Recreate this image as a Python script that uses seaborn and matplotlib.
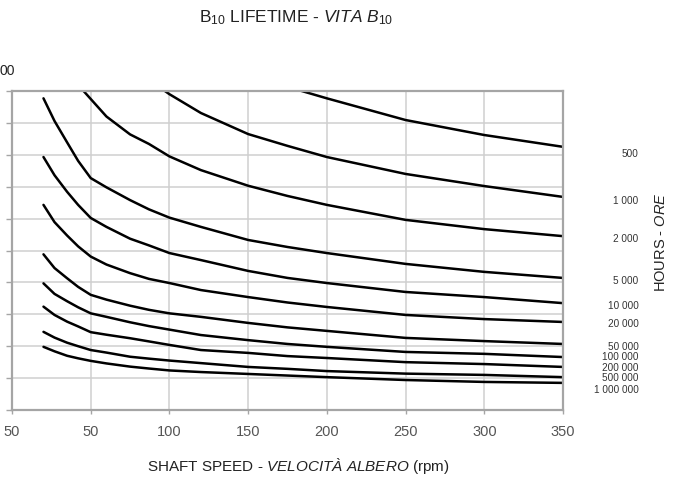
import matplotlib
matplotlib.use("Agg")
import matplotlib.pyplot as plt
import seaborn as sns
import pandas as pd

# shaft speed (rpm) sampled along every curve
speed = [20, 27, 35, 42, 50, 60, 75, 87, 100, 120, 150, 175, 200, 250, 300, 350]

# load for each B10 lifetime (hours); the top ones run off the frame
load_500 = [1420, 1390, 1360, 1335, 1310, 1280, 1235, 1200, 1165, 1120, 1060, 1013, 977, 909, 862, 825]
load_1000 = [1375, 1330, 1285, 1245, 1200, 1150, 1080, 1035, 990, 931, 865, 828, 793, 740, 702, 668]
load_2000 = [1176, 1122, 1066, 1019, 975, 920, 864, 834, 795, 752, 703, 671, 643, 596, 567, 545]
load_5000 = [977, 906, 839, 781, 727, 698, 658, 629, 603, 574, 533, 511, 492, 458, 433, 414]
load_10000 = [793, 736, 684, 643, 602, 574, 537, 516, 492, 470, 436, 414, 398, 370, 354, 335]
load_20000 = [643, 589, 547, 513, 481, 456, 429, 411, 398, 376, 354, 337, 323, 298, 285, 276]
load_50000 = [488, 445, 413, 386, 361, 346, 327, 314, 303, 292, 273, 259, 248, 226, 216, 207]
load_100000 = [397, 364, 341, 322, 303, 292, 275, 263, 252, 235, 219, 207, 198, 182, 176, 166]
load_200000 = [324, 298, 277, 262, 244, 236, 225, 215, 204, 188, 179, 169, 163, 150, 144, 135]
load_500000 = [245, 227, 211, 200, 188, 180, 167, 161, 155, 147, 135, 129, 122, 114, 110, 103]
load_1000000 = [198, 184, 170, 162, 154, 146, 136, 130, 124, 119, 113, 108, 103, 94, 88, 85]

curves = [load_500, load_1000, load_2000, load_5000, load_10000, load_20000,
          load_50000, load_100000, load_200000, load_500000, load_1000000]
hour_labels = ["500", "1 000", "2 000", "5 000", "10 000", "20 000",
               "50 000", "100 000", "200 000", "500 000", "1 000 000"]
# where the hour labels sit on the right (spread so they do not overlap)
label_y = [803, 655, 536, 405, 327, 270, 198, 166, 132, 101, 63]

x_ticks = [0, 50, 100, 150, 200, 250, 300, 350]
x_tick_labels = ["50", "50", "100", "150", "200", "250", "300", "350"]

sns.set_theme(style="whitegrid")
plt.rcParams["font.family"] = ["Liberation Sans", "DejaVu Sans"]
plt.rcParams["mathtext.fontset"] = "custom"
plt.rcParams["mathtext.rm"] = "Liberation Sans"
plt.rcParams["mathtext.it"] = "Liberation Sans:italic"

rows = []
for lab, vals in zip(hour_labels, curves):
    for s, v in zip(speed, vals):
        rows.append({"speed": s, "load": v, "hours": lab})
df = pd.DataFrame(rows)

fig = plt.figure(figsize=(6.85, 4.79), dpi=100)
ax = fig.add_axes([12 / 685, 69 / 479, 551 / 685, 319 / 479])

sns.lineplot(data=df, x="speed", y="load", hue="hours", units="hours",
             estimator=None, palette=["black"] * len(curves), linewidth=1.8,
             legend=False, ax=ax, solid_joinstyle="round")

ax.set_xlim(0, 350)
ax.set_ylim(0, 1000)
ax.set_xticks(x_ticks)
ax.set_xticklabels(x_tick_labels)
ax.set_yticks(range(0, 1001, 100))
ax.set_facecolor("white")
ax.grid(True, color="#cfcfcf", linewidth=1.1)
for sp in ax.spines.values():
    sp.set_color("#a5a5a5")
    sp.set_linewidth(1.6)
ax.tick_params(axis="y", left=True, length=4, width=1, color="#a5a5a5",
               labelleft=False)
ax.tick_params(axis="x", bottom=True, length=3, width=1, color="#a5a5a5",
               labelsize=10.5, labelcolor="#555555", pad=8)
ax.set_xlabel("")
ax.set_ylabel("")

for lab, yv in zip(hour_labels, label_y):
    ax.text(1.137, yv, lab, transform=ax.get_yaxis_transform(),
            ha="right", va="center", fontsize=7.2, color="#333333")

fig.text(296 / 685, 1 - 18 / 479,
         r"B$_{\mathrm{10}}$ LIFETIME - $\mathit{VITA\ B}_{\mathit{10}}$",
         ha="center", va="center", fontsize=12.5, color="#222222")
fig.text(298 / 685, 1 - 466 / 479,
         r"SHAFT SPEED - $\mathit{VELOCITÀ\ ALBERO}$ (rpm)",
         ha="center", va="center", fontsize=11, color="#222222")
fig.text(661 / 685, 1 - 242 / 479, r"HOURS - $\mathit{ORE}$",
         rotation=90, ha="center", va="center", fontsize=10.5, color="#222222")
fig.text(0.0, 1 - 71 / 479, "00", ha="left", va="center",
         fontsize=10, color="#222222")

fig.savefig("out.png", dpi=100)
